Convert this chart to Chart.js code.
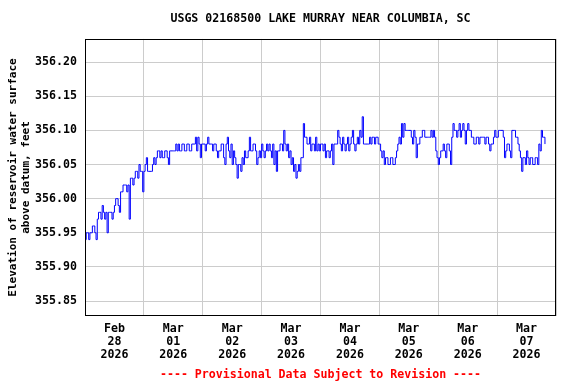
<!DOCTYPE html>
<html lang="en">
<head>
    <meta charset="UTF-8">
    <title>USGS 02168500 Lake Murray</title>
    <script src="https://cdn.jsdelivr.net/npm/chart.js"></script>
    <style>
        body {
            margin: 0;
            background: #ffffff;
        }
        #chart {
            display: block;
        }
    </style>
</head>
<body>
    <canvas id="chart" width="576" height="384"></canvas>

    <script>
        // gage height readings, one every 30 minutes, per day
        const feb28 = [355.94,355.95, 355.95,355.94, 355.95,355.95, 355.96,355.96, 355.95,355.94, 355.97,355.98, 355.98,355.97, 355.99,355.98,
                       355.97,355.98, 355.95,355.98, 355.98,355.98, 355.97,355.98, 355.99,356.00, 356.00,355.99, 355.98,356.01, 356.01,356.02,
                       356.02,356.02, 356.01,356.02, 355.97,356.03, 356.03,356.02, 356.03,356.04, 356.04,356.03, 356.05,356.04, 356.04,356.01];
        const mar01 = [356.04,356.05, 356.06,356.04, 356.04,356.04, 356.04,356.05, 356.06,356.05, 356.06,356.07, 356.07,356.06, 356.07,356.06,
                       356.06,356.07, 356.07,356.06, 356.05,356.07, 356.07,356.07, 356.07,356.07, 356.08,356.07, 356.08,356.07, 356.07,356.08,
                       356.08,356.07, 356.07,356.08, 356.08,356.07, 356.07,356.08, 356.08,356.08, 356.09,356.07, 356.09,356.08, 356.06,356.08];
        const mar02 = [356.08,356.08, 356.07,356.08, 356.09,356.08, 356.08,356.08, 356.07,356.08, 356.08,356.07, 356.06,356.07, 356.07,356.08,
                       356.08,356.06, 356.05,356.08, 356.09,356.07, 356.06,356.08, 356.05,356.07, 356.06,356.05, 356.03,356.05, 356.05,356.04,
                       356.06,356.05, 356.07,356.06, 356.06,356.07, 356.09,356.07, 356.07,356.08, 356.08,356.07, 356.05,356.06, 356.07,356.06];
        const mar03 = [356.08,356.07, 356.06,356.07, 356.08,356.07, 356.08,356.07, 356.06,356.08, 356.05,356.07, 356.04,356.07, 356.07,356.08,
                       356.08,356.07, 356.10,356.08, 356.07,356.08, 356.06,356.07, 356.05,356.06, 356.04,356.05, 356.03,356.04, 356.05,356.04,
                       356.06,356.06, 356.11,356.09, 356.09,356.08, 356.08,356.09, 356.07,356.08, 356.08,356.07, 356.09,356.07, 356.08,356.07];
        const mar04 = [356.08,356.08, 356.07,356.08, 356.06,356.07, 356.07,356.06, 356.07,356.08, 356.05,356.08, 356.08,356.08, 356.10,356.09,
                       356.08,356.07, 356.09,356.08, 356.07,356.08, 356.09,356.07, 356.08,356.09, 356.10,356.08, 356.07,356.08, 356.09,356.08,
                       356.10,356.09, 356.12,356.08, 356.08,356.08, 356.08,356.08, 356.09,356.08, 356.09,356.09, 356.08,356.09, 356.09,356.08];
        const mar05 = [356.08,356.07, 356.06,356.07, 356.05,356.06, 356.06,356.05, 356.05,356.06, 356.06,356.05, 356.05,356.06, 356.07,356.08,
                       356.09,356.08, 356.11,356.09, 356.11,356.10, 356.10,356.10, 356.10,356.10, 356.09,356.08, 356.10,356.09, 356.06,356.08,
                       356.08,356.09, 356.09,356.10, 356.10,356.09, 356.09,356.09, 356.09,356.09, 356.10,356.09, 356.10,356.09, 356.07,356.06];
        const mar06 = [356.05,356.06, 356.07,356.07, 356.08,356.07, 356.06,356.08, 356.08,356.07, 356.05,356.09, 356.11,356.10, 356.10,356.09,
                       356.10,356.11, 356.09,356.10, 356.11,356.10, 356.08,356.10, 356.11,356.10, 356.10,356.09, 356.09,356.08, 356.08,356.09,
                       356.09,356.08, 356.09,356.09, 356.09,356.09, 356.08,356.09, 356.09,356.08, 356.07,356.08, 356.08,356.09, 356.10,356.09];
        const mar07 = [356.09,356.10, 356.10,356.10, 356.10,356.09, 356.06,356.07, 356.08,356.08, 356.07,356.06, 356.10,356.10, 356.10,356.09,
                       356.09,356.08, 356.07,356.06, 356.04,356.06, 356.06,356.05, 356.07,356.06, 356.05,356.06, 356.06,356.05, 356.05,356.06,
                       356.06,356.05, 356.08,356.07, 356.10,356.09, 356.09,356.08];

        const days = [feb28, mar01, mar02, mar03, mar04, mar05, mar06, mar07];
        const dayMonths = ['Feb', 'Mar', 'Mar', 'Mar', 'Mar', 'Mar', 'Mar', 'Mar'];
        const dayNumbers = ['28', '01', '02', '03', '04', '05', '06', '07'];
        const dayYear = '2026';
        const yTicks = [355.85, 355.90, 355.95, 356.00, 356.05, 356.10, 356.15, 356.20];

        // hours since Feb 28 00:00
        const points = [];
        days.forEach((values, d) => {
            values.forEach((v, i) => {
                points.push({ x: d * 24 + i * 0.5, y: v });
            });
        });

        const xTicks = [];
        for (let h = 0; h <= 192; h += 12) xTicks.push(h);

        const monoFont = { family: '"DejaVu Sans Mono", monospace', size: 11.6, weight: 'bold' };

        const frame = {
            id: 'frame',
            afterDraw(chart) {
                const { ctx, chartArea } = chart;
                ctx.save();
                ctx.strokeStyle = '#000000';
                ctx.lineWidth = 1;
                ctx.strokeRect(Math.round(chartArea.left) + 0.5, Math.round(chartArea.top) + 0.5,
                    Math.round(chartArea.right - chartArea.left) - 1, Math.round(chartArea.bottom - chartArea.top) - 1);
                ctx.restore();
            }
        };

        new Chart(document.getElementById('chart'), {
            type: 'line',
            data: {
                datasets: [{
                    label: 'Elevation',
                    data: points,
                    borderColor: '#0000ff',
                    borderWidth: 1,
                    pointRadius: 0,
                    stepped: true,
                    fill: false
                }]
            },
            options: {
                responsive: false,
                animation: false,
                devicePixelRatio: 1,
                layout: { padding: { left: 0, right: 20, top: 0, bottom: 0 } },
                plugins: {
                    legend: { display: false },
                    tooltip: { enabled: false },
                    title: {
                        display: true,
                        fullSize: false,
                        text: 'USGS 02168500 LAKE MURRAY NEAR COLUMBIA, SC',
                        color: '#000000',
                        font: monoFont,
                        padding: { top: 12, bottom: 13 }
                    },
                    subtitle: {
                        display: true,
                        fullSize: false,
                        position: 'bottom',
                        text: '---- Provisional Data Subject to Revision ----',
                        color: '#ff0000',
                        font: monoFont,
                        padding: { top: 4, bottom: 2 }
                    }
                },
                scales: {
                    x: {
                        type: 'linear',
                        min: 0,
                        max: 192,
                        afterBuildTicks: axis => {
                            axis.ticks = xTicks.map(v => ({ value: v }));
                        },
                        afterFit: scale => { scale.height = 48; },
                        border: { display: false },
                        grid: {
                            color: ctx => (ctx.tick && ctx.tick.value % 24 === 0) ? '#cccccc' : 'rgba(0,0,0,0)',
                            lineWidth: 1,
                            drawTicks: false
                        },
                        ticks: {
                            autoSkip: false,
                            maxRotation: 0,
                            padding: 7,
                            color: '#000000',
                            font: Object.assign({}, monoFont, { lineHeight: 1.1 }),
                            callback: value => {
                                if (value % 24 !== 12) return '';
                                const d = (value - 12) / 24;
                                return [dayMonths[d], dayNumbers[d], dayYear];
                            }
                        }
                    },
                    y: {
                        min: 355.828,
                        max: 356.234,
                        afterBuildTicks: axis => {
                            axis.ticks = yTicks.map(v => ({ value: v }));
                        },
                        afterFit: scale => { scale.width = 85; },
                        border: { display: false },
                        grid: {
                            color: '#cccccc',
                            lineWidth: 1,
                            drawTicks: false
                        },
                        ticks: {
                            padding: 8,
                            color: '#000000',
                            font: monoFont,
                            callback: value => value.toFixed(2)
                        },
                        title: {
                            display: true,
                            text: ['Elevation of reservoir water surface', 'above datum, feet'],
                            color: '#000000',
                            font: Object.assign({}, monoFont, { size: 11, lineHeight: 1.18 }),
                            padding: { top: 6.5, bottom: 0 }
                        }
                    }
                }
            },
            plugins: [frame]
        });
    </script>
</body>
</html>
